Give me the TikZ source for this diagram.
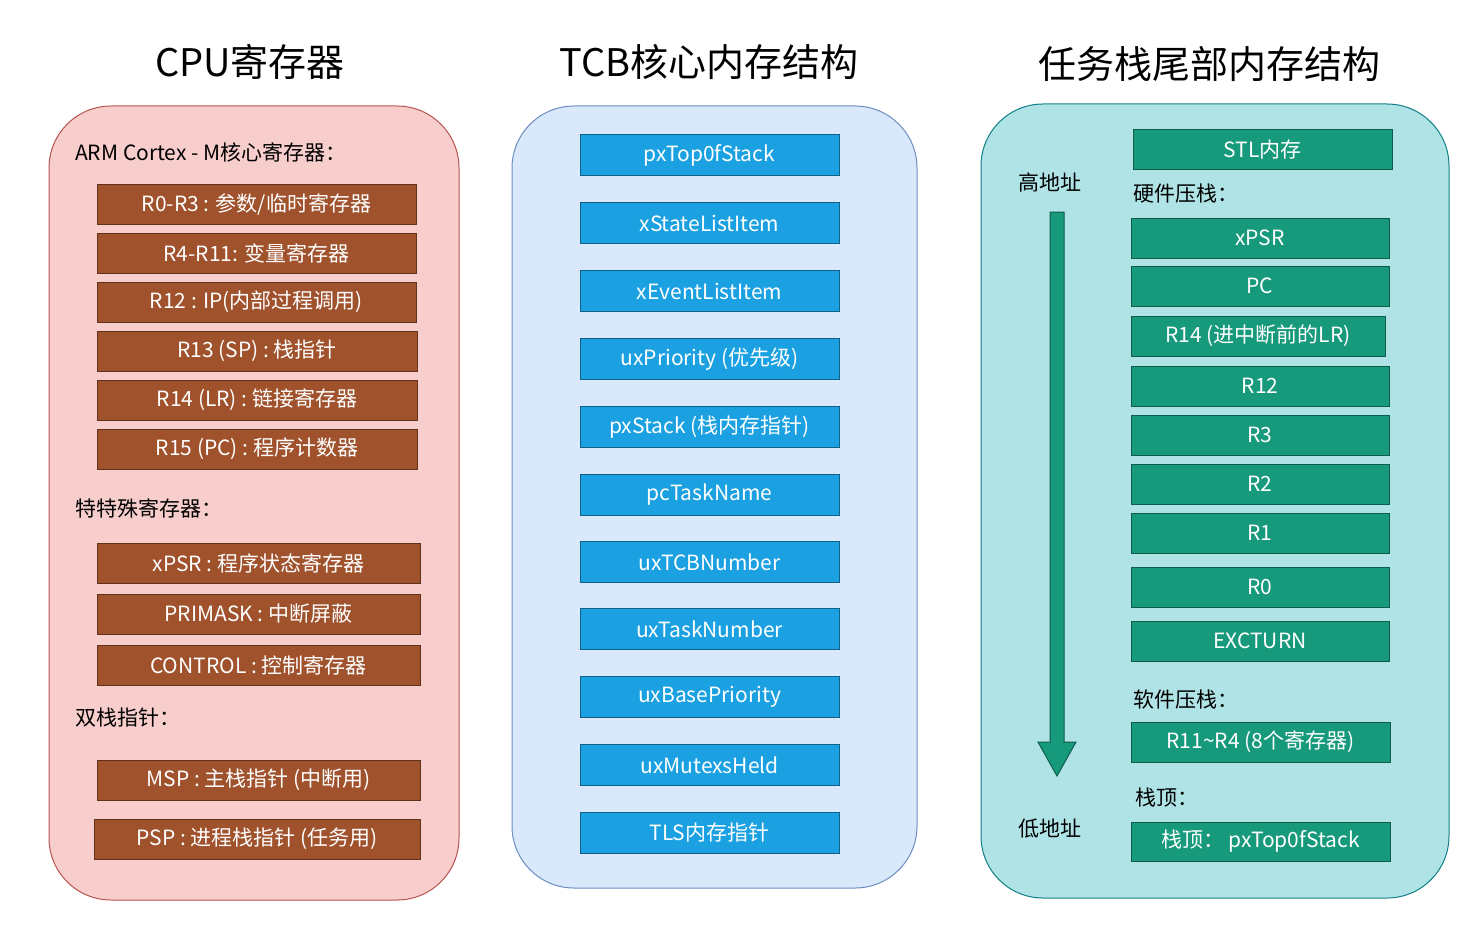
\documentclass[tikz,border=0pt]{standalone}
\usepackage{fontspec}
\setmainfont{Noto Sans CJK SC}
\begin{document}
\begin{tikzpicture}[x=1pt,y=-1pt,
 panel/.style={rounded corners=62pt,line width=1pt},
 bbox/.style={draw=#1!60!black,line width=1pt,text=white,font=\fontsize{21}{24}\selectfont,inner sep=0pt},
 lbl/.style={font=\fontsize{21}{24}\selectfont,inner sep=0pt},
 ttl/.style={font=\fontsize{38}{42}\selectfont,inner sep=0pt}]
\useasboundingbox (0,0) rectangle (1478,931);
\definecolor{pinkf}{HTML}{F8CECC}\definecolor{pinkd}{HTML}{B85450}
\definecolor{bluef}{HTML}{DAE8FC}\definecolor{blued}{HTML}{6C8EBF}
\definecolor{tealf}{HTML}{B0E3E6}\definecolor{teald}{HTML}{0E8088}
\definecolor{brn}{HTML}{A0522D}\definecolor{blu}{HTML}{1BA1E2}\definecolor{grn}{HTML}{17997B}
\fill[panel,fill=pinkf,draw=pinkd] (49,106) rectangle (459,900);
\fill[panel,fill=bluef,draw=blued] (512,106) rectangle (917,888);
\fill[panel,fill=tealf,draw=teald] (981,104) rectangle (1449,898);
\node[ttl] (t1) at (250,62) {CPU寄存器};
\node[ttl] (t2) at (709,62) {TCB核心内存结构};
\node[ttl] (t3) at (1209,64) {任务栈尾部内存结构};
% left
\newcommand\bx[7]{\node[bbox=#6,fill=#6,minimum width=#3-#2,minimum height=#5-#4] (#7) at ({(#2+#3)/2},{(#4+#5)/2}) {#1};}
\node[lbl,anchor=west] (la) at (75,152) {ARM Cortex - M核心寄存器：};
\bx{R0-R3 : 参数/临时寄存器}{97}{416}{184}{224}{brn}{a1}
\bx{R4-R11: 变量寄存器}{97}{416}{233}{273}{brn}{a2}
\bx{R12 : IP(内部过程调用)}{97}{416}{282}{322}{brn}{a3}
\bx{R13 (SP) : 栈指针}{97}{417}{331}{371}{brn}{a4}
\bx{R14 (LR) : 链接寄存器}{97}{417}{380}{420}{brn}{a5}
\bx{R15 (PC) : 程序计数器}{97}{417}{429}{469}{brn}{a6}
\node[lbl,anchor=west] (lb) at (75,509) {特特殊寄存器：};
\bx{xPSR : 程序状态寄存器}{97}{420}{543}{583}{brn}{a7}
\bx{PRIMASK : 中断屏蔽}{97}{420}{594}{634}{brn}{a8}
\bx{CONTROL : 控制寄存器}{97}{420}{645}{685}{brn}{a9}
\node[lbl,anchor=west] (lc) at (75,718) {双栈指针：};
\bx{MSP : 主栈指针 (中断用)}{97}{420}{760}{800}{brn}{a10}
\bx{PSP : 进程栈指针 (任务用)}{94}{420}{819}{859}{brn}{a11}
% middle
\foreach \t/\y [count=\i] in {pxTop0fStack/155,xStateListItem/223,xEventListItem/291,uxPriority (优先级)/359,pxStack (栈内存指针)/427,pcTaskName/495,uxTCBNumber/562,uxTaskNumber/629,uxBasePriority/697,uxMutexsHeld/765,TLS内存指针/833}
  \node[bbox=blu,fill=blu,minimum width=259,minimum height=41] (m\i) at (709.5,\y) {\t};
% right
\bx{STL内存}{1133}{1392}{130}{170}{grn}{r0}
\node[lbl,anchor=west] (rl1) at (1133,194) {硬件压栈：};
\bx{xPSR}{1131}{1389}{218}{258}{grn}{r1}
\bx{PC}{1131}{1389}{266}{306}{grn}{r2}
\bx{R14 (进中断前的LR)}{1131}{1385}{316}{356}{grn}{r3}
\bx{R12}{1131}{1389}{366}{406}{grn}{r4}
\bx{R3}{1131}{1389}{415}{455}{grn}{r5}
\bx{R2}{1131}{1389}{464}{504}{grn}{r6}
\bx{R1}{1131}{1389}{513}{553}{grn}{r7}
\bx{R0}{1131}{1389}{567}{607}{grn}{r8}
\bx{EXCTURN}{1131}{1389}{621}{661}{grn}{r9}
\node[lbl,anchor=west] (rl2) at (1133,700) {软件压栈：};
\bx{R11\textasciitilde R4 (8个寄存器)}{1131}{1390}{722}{762}{grn}{r10}
\node[lbl,anchor=west] (rl3) at (1135,798) {栈顶：};
\bx{栈顶：\ pxTop0fStack}{1131}{1390}{822}{861}{grn}{r11}
\node[lbl] (hi) at (1050,182) {高地址};
\node[lbl] (lo) at (1050,829) {低地址};
\draw[fill=grn,draw=grn!60!black,line width=1pt] (1050,212)--(1064,212)--(1064,742)--(1076,742)--(1057,776)--(1038,742)--(1050,742)--cycle;
\end{tikzpicture}
\end{document}
